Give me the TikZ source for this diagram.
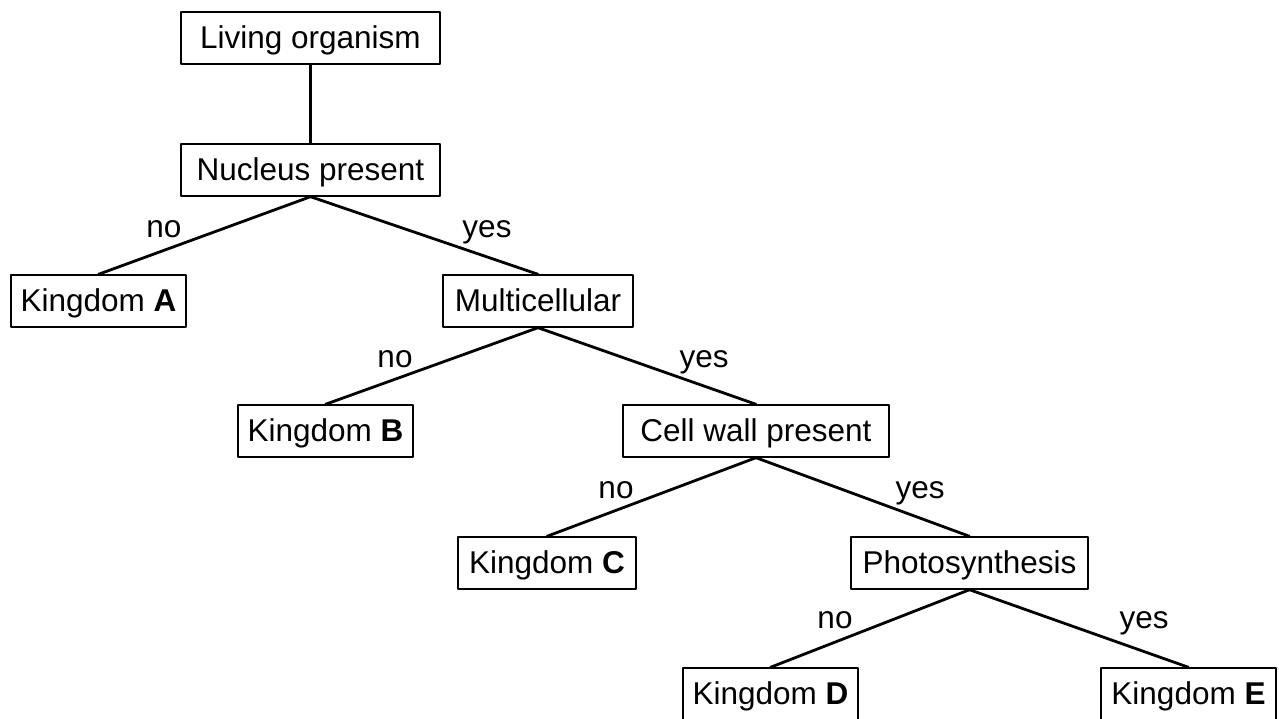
\documentclass[tikz,border=0pt]{standalone}
\usepackage{fontspec}
\setmainfont{Liberation Sans}
\begin{document}
\begin{tikzpicture}[x=1pt,y=-1pt,line cap=round,line join=round,
  box/.style={draw,line width=1.4pt,inner xsep=0pt,inner ysep=13pt,
    text height=23pt,text depth=3pt,minimum width=#1,
    font=\fontsize{31.5}{38}\selectfont},
  lbl/.style={anchor=base,inner sep=0pt,font=\fontsize{31.5}{38}\selectfont},
  branch/.style={line width=2.8pt}]
\useasboundingbox (0,0) rectangle (1279,718);

\node[box=259pt] (living) at (310.5,38) {Living organism};
\node[box=259pt] (nucleus) at (310.5,170) {Nucleus present};
\node[box=175pt] (kA) at (98.5,301) {Kingdom \textbf{A}};
\node[box=190pt] (multi) at (538,301) {Multicellular};
\node[box=175pt] (kB) at (325.5,431) {Kingdom \textbf{B}};
\node[box=266pt] (wall) at (756,431) {Cell wall present};
\node[box=178pt] (kC) at (547,563) {Kingdom \textbf{C}};
\node[box=237pt] (photo) at (969.5,563) {Photosynthesis};
\node[box=175pt] (kD) at (770.5,694) {Kingdom \textbf{D}};
\node[box=175pt] (kE) at (1188.5,694) {Kingdom \textbf{E}};

\draw [branch] (living.south)--(nucleus.north);
\draw [branch] (nucleus.south)--(kA.north);
\draw [branch] (nucleus.south)--(multi.north);
\draw [branch] (multi.south)--(kB.north);
\draw [branch] (multi.south)--(wall.north);
\draw [branch] (wall.south)--(kC.north);
\draw [branch] (wall.south)--(photo.north);
\draw [branch] (photo.south)--(kD.north);
\draw [branch] (photo.south)--(kE.north);

% answers on the branches
\node[lbl] (no1) at (164,237) {no};
\node[lbl] (yes1) at (487,237) {yes};
\node[lbl] (no2) at (395,367) {no};
\node[lbl] (yes2) at (704,367) {yes};
\node[lbl] (no3) at (616,498) {no};
\node[lbl] (yes3) at (920,498) {yes};
\node[lbl] (no4) at (835,628) {no};
\node[lbl] (yes4) at (1144,628) {yes};
\end{tikzpicture}
\end{document}
